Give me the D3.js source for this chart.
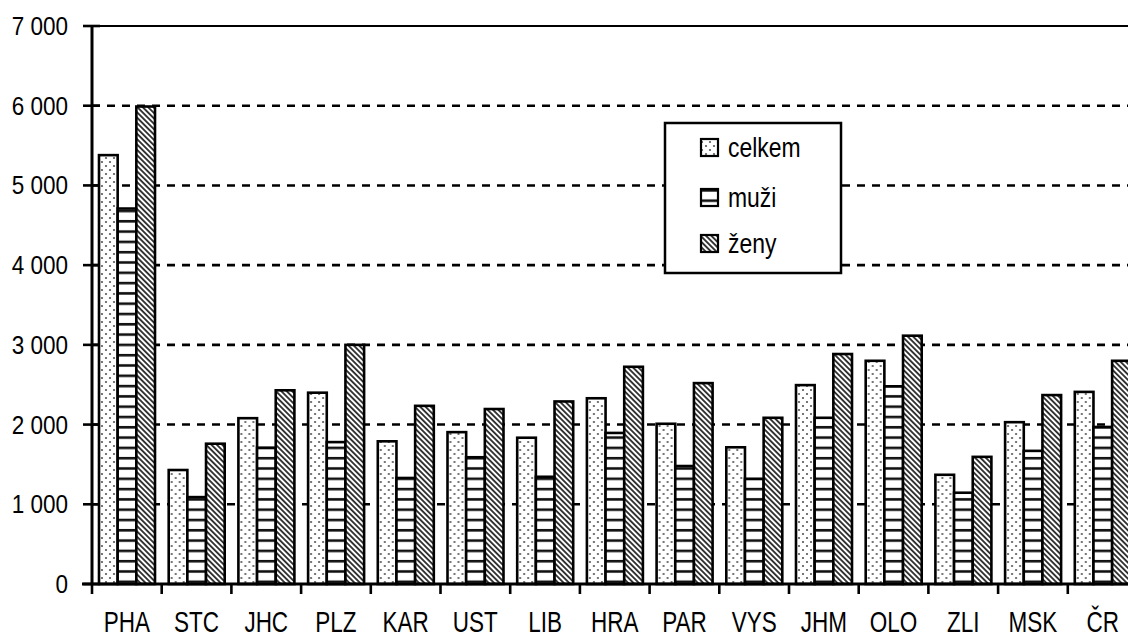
<!DOCTYPE html>
<html><head><meta charset="utf-8">
<script src="https://cdn.jsdelivr.net/npm/d3@7"></script>
<style>
html,body{margin:0;padding:0;background:#fff;overflow:hidden}
text{font-family:"Liberation Sans",Arial,sans-serif;fill:#000}
</style></head>
<body><svg id="c" width="1128" height="639"></svg>
<script>
const categories = ["PHA","STC","JHC","PLZ","KAR","UST","LIB","HRA","PAR","VYS","JHM","OLO","ZLI","MSK","ČR"];
const seriesNames = ["celkem","muži","ženy"];
const celkem = [5380,1430,2080,2400,1790,1905,1835,2330,2010,1715,2495,2800,1370,2030,2410];
const muzi   = [4710,1090,1710,1780,1330,1590,1345,1895,1480,1320,2085,2480,1145,1670,1970];
const zeny   = [5990,1760,2430,3000,2235,2195,2290,2725,2520,2085,2885,3115,1595,2370,2800];
const yTicks = [0,1000,2000,3000,4000,5000,6000,7000];
const yTickLabels = ["0","1 000","2 000","3 000","4 000","5 000","6 000","7 000"];

const svg = d3.select("#c");
const defs = svg.append("defs");
// patterns
const p1 = defs.append("pattern").attr("id","pat0").attr("patternUnits","userSpaceOnUse").attr("width",8).attr("height",8);
p1.append("rect").attr("width",8).attr("height",8).attr("fill","#fff");
p1.append("circle").attr("cx",2).attr("cy",2).attr("r",1.1).attr("fill","#555");
p1.append("circle").attr("cx",6).attr("cy",6).attr("r",1.1).attr("fill","#555");
const p2 = defs.append("pattern").attr("id","pat1").attr("patternUnits","userSpaceOnUse").attr("width",10).attr("height",10.3);
p2.append("rect").attr("width",10).attr("height",10.3).attr("fill","#fff");
p2.append("line").attr("x1",0).attr("x2",10).attr("y1",5).attr("y2",5).attr("stroke","#111").attr("stroke-width",2.6);
const p3 = defs.append("pattern").attr("id","pat2").attr("patternUnits","userSpaceOnUse").attr("width",3.8).attr("height",10).attr("patternTransform","rotate(-45)");
p3.append("rect").attr("width",3.8).attr("height",10).attr("fill","#fff");
p3.append("line").attr("x1",1.9).attr("x2",1.9).attr("y1",0).attr("y2",10).attr("stroke","#333").attr("stroke-width",1.9);

const x0 = 92, step = 69.7;
const x = d3.scaleBand().domain(categories).range([x0, x0 + step*categories.length]).padding(0);
const xs = d3.scaleBand().domain(seriesNames).range([7, 63]).padding(0);
const y = d3.scaleLinear().domain([0,7000]).range([584,26]);

// gridlines
svg.append("g").selectAll("line").data(yTicks.filter(d=>d>0 && d<7000)).join("line")
  .attr("x1",x0).attr("x2",1128).attr("y1",d=>y(d)).attr("y2",d=>y(d))
  .attr("stroke","#000").attr("stroke-width",2.6).attr("stroke-dasharray","8,7");
svg.append("line").attr("x1",x0).attr("x2",1128).attr("y1",y(7000)).attr("y2",y(7000)).attr("stroke","#000").attr("stroke-width",2.2);

// bars
const data = categories.map((c,i)=>({c, vals:[celkem[i],muzi[i],zeny[i]]}));
const g = svg.append("g").selectAll("g").data(data).join("g").attr("transform",d=>`translate(${x(d.c)},0)`);
g.selectAll("rect").data(d=>d.vals.map((v,j)=>({v,s:seriesNames[j],j}))).join("rect")
  .attr("x",d=>xs(d.s)).attr("width",xs.bandwidth())
  .attr("y",d=>y(d.v)).attr("height",d=>y(0)-y(d.v))
  .attr("fill",d=>`url(#pat${d.j})`).attr("stroke","#000").attr("stroke-width",2.6);

// y axis
const yAxis = svg.append("g").attr("transform",`translate(${x0},0)`);
yAxis.append("line").attr("x1",0).attr("x2",0).attr("y1",y(7000)-1).attr("y2",y(0)+1).attr("stroke","#000").attr("stroke-width",3);
yAxis.selectAll(".t").data(yTicks).join("line").attr("x1",-9).attr("x2",8).attr("y1",d=>y(d)).attr("y2",d=>y(d)).attr("stroke","#000").attr("stroke-width",2.6);
yAxis.selectAll("text").data(yTicks).join("text")
  .attr("transform",d=>`translate(-24,${y(d)+9}) scale(0.9,1)`).attr("text-anchor","end")
  .style("font-size","25px").text((d,i)=>yTickLabels[i]);

// x axis
const xAxis = svg.append("g");
xAxis.append("line").attr("x1",x0-10).attr("x2",1128).attr("y1",y(0)).attr("y2",y(0)).attr("stroke","#000").attr("stroke-width",3);
xAxis.selectAll(".tk").data(d3.range(categories.length+1)).join("line")
  .attr("x1",i=>x0+i*step).attr("x2",i=>x0+i*step).attr("y1",y(0)).attr("y2",y(0)+10).attr("stroke","#000").attr("stroke-width",2.6);
xAxis.selectAll("text").data(categories).join("text")
  .attr("transform",d=>`translate(${x(d)+x.bandwidth()/2},632) scale(0.75,1)`)
  .attr("text-anchor","middle").style("font-size","30px").text(d=>d);

// legend
const leg = svg.append("g");
leg.append("rect").attr("x",665).attr("y",123).attr("width",176).attr("height",150).attr("fill","#fff").attr("stroke","#000").attr("stroke-width",2.5);
const ly = [139,189,235];
seriesNames.forEach((s,j)=>{
  leg.append("rect").attr("x",701).attr("y",ly[j]).attr("width",17).attr("height",17).attr("fill",`url(#pat${j})`).attr("stroke","#000").attr("stroke-width",2.2);
  leg.append("text").attr("transform",`translate(728,${ly[j]+18}) scale(0.85,1)`).style("font-size","27px").text(s);
});
</script></body></html>
